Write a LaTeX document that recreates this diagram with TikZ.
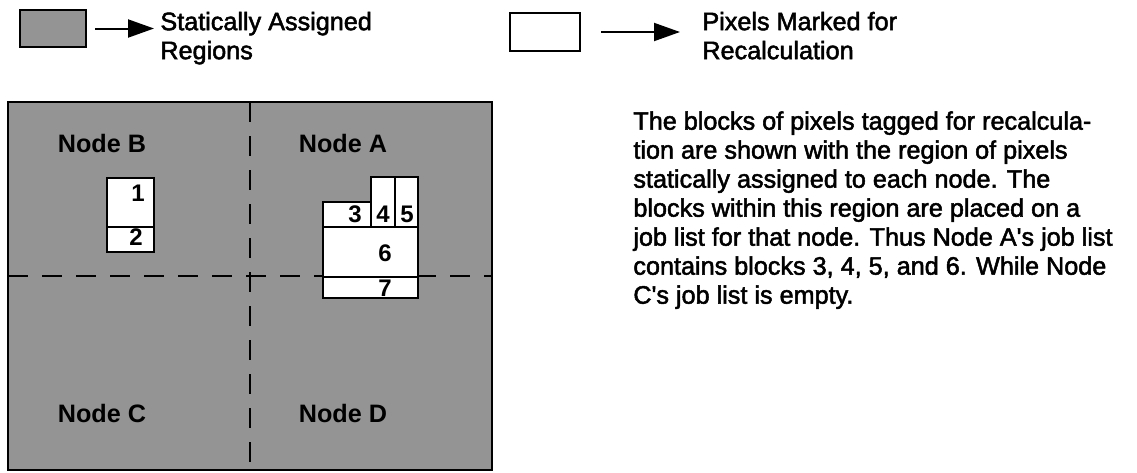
\documentclass[tikz,border=0pt]{standalone}
\usepackage{fontspec}
\setmainfont{Liberation Sans}
\newfontfamily\notefont{Liberation Sans}[FakeBold=2]
\usetikzlibrary{arrows.meta}
\tikzstyle{keybox} = [rectangle, draw=black, line width=1pt, inner sep=0pt]
\tikzstyle{region} = [fill=black!42, draw=black, line width=1.2pt]
\tikzstyle{divider} = [draw=black, line width=1pt, dash pattern=on 10pt off 7pt]
\tikzstyle{block} = [fill=white, draw=black, line width=1pt]
\tikzstyle{blocknum} = [font=\fontsize{12}{14}\selectfont\bfseries, inner sep=0pt, anchor=base]
\tikzstyle{nodelabel} = [font=\fontsize{12.6}{14.5}\selectfont\bfseries, inner sep=0pt, anchor=base]
\tikzstyle{caption} = [font=\notefont\fontsize{12.6}{14.5}\selectfont, align=left,
    inner sep=0pt, anchor=north west]
\tikzstyle{arrow} = [line width=1pt, -{Triangle[length=13pt, width=9pt]}]

\begin{document}
\begin{tikzpicture}[x=0.5pt, y=-0.5pt]
    \useasboundingbox (0,0) rectangle (1137,472);

    % legend
    \node [keybox, fill=black!42, minimum width=33pt, minimum height=18.5pt] (statickey) at (53,28.5) {};
    \node [caption] (statictext) at (160,11.5) {Statically Assigned\\Regions};
    \node [keybox, fill=white, minimum width=35pt, minimum height=19pt] (recalckey) at (545,32) {};
    \node [caption] (recalctext) at (702,11.5) {Pixels Marked for\\Recalculation};
    \draw [arrow, shorten <=4pt, shorten >=3pt] (statickey.east) -- (statickey.east -| statictext.west);
    \draw [arrow, shorten <=10pt, shorten >=11pt] (recalckey.east) -- (recalckey.east -| recalctext.west);

    % statically assigned regions
    \draw [region] (8,102) rectangle (492,470);
    \draw [divider] (250,102) -- (250,470);
    \draw [divider] (8,276) -- (492,276);
    \node [nodelabel] (nodeB) at (102,152) {Node B};
    \node [nodelabel] (nodeA) at (343,152) {Node A};
    \node [nodelabel] (nodeC) at (102,422) {Node C};
    \node [nodelabel] (nodeD) at (343,422) {Node D};

    % blocks marked for recalculation
    \draw [block] (107,178) rectangle (154,227);
    \draw [block] (107,227) rectangle (154,252);
    \draw [block] (323,202) rectangle (371,227);
    \draw [block] (371,177) rectangle (395,227);
    \draw [block] (395,177) rectangle (418,227);
    \draw [block] (323,227) rectangle (418,277);
    \draw [block] (323,277) rectangle (418,298);
    \node [blocknum] (b1) at (138,201) {1};
    \node [blocknum] (b2) at (136,245) {2};
    \node [blocknum] (b3) at (355,222) {3};
    \node [blocknum] (b4) at (383,222) {4};
    \node [blocknum] (b5) at (407,222) {5};
    \node [blocknum] (b6) at (385,261) {6};
    \node [blocknum] (b7) at (385,296) {7};

    % explanation
    \node [caption] (note) at (633,111) {The blocks of pixels tagged for recalcula-\\
        tion are shown with the region of pixels\\
        statically assigned to each node. The\\
        blocks within this region are placed on a\\
        job list for that node. Thus Node A's job list\\
        contains blocks 3, 4, 5, and 6. While Node\\
        C's job list is empty.};
\end{tikzpicture}
\end{document}
